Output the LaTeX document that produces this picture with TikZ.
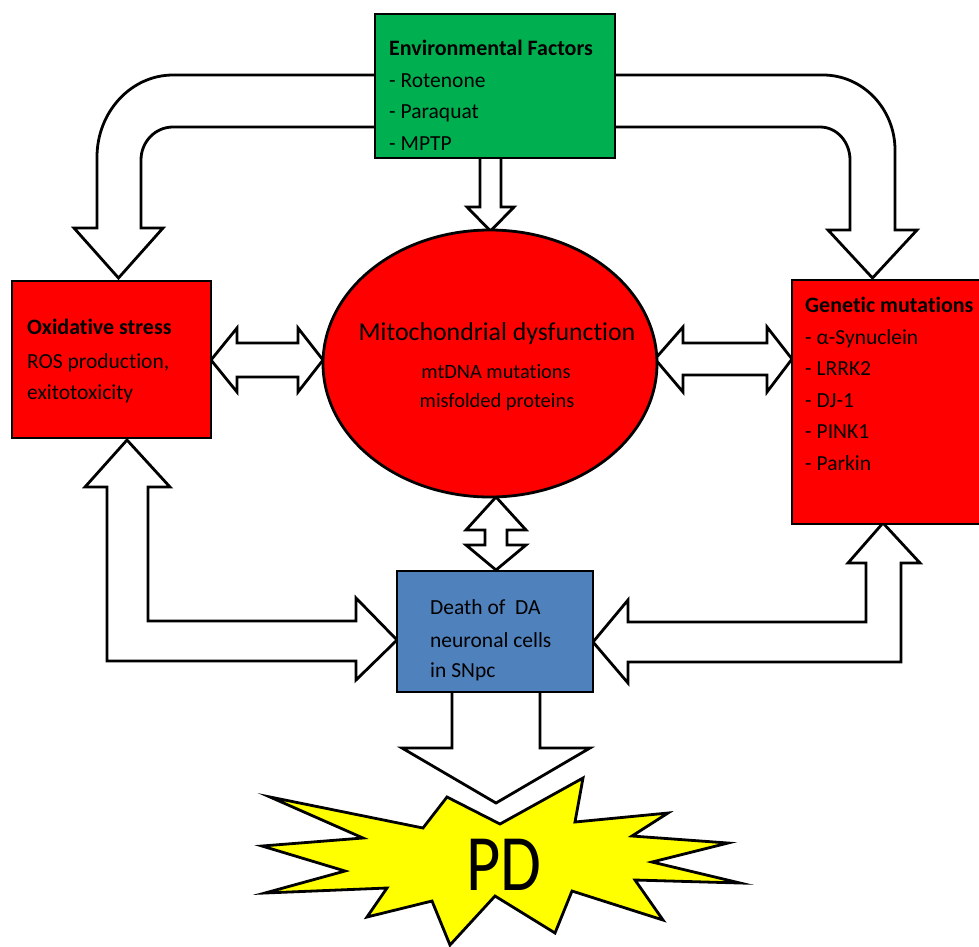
\documentclass[tikz,border=0pt]{standalone}
\usepackage{fontspec}
\usetikzlibrary{shapes.geometric}
\setmainfont{Carlito}[Ligatures={NoCommon}]
\definecolor{envgreen}{HTML}{00B050}
\definecolor{boxred}{HTML}{FF0000}
\definecolor{boxblue}{HTML}{4F81BD}
\definecolor{burst}{HTML}{FFFF00}
\tikzset{
  blockarrow/.style={draw=black, fill=white, line width=2.8pt, line join=miter},
  boxstyle/.style={draw=black, line width=2.8pt, rectangle, inner sep=0pt, line join=miter},
  txt/.style={anchor=base west, inner sep=0pt, font=\fontsize{21.5}{24}\selectfont},
  btxt/.style={txt, font=\fontsize{22}{24}\selectfont\bfseries},
}
\begin{document}
\begin{tikzpicture}[x=1pt,y=-1pt]
\useasboundingbox (0,0) rectangle (979,946);
\clip (0,0) rectangle (979,946);
\fill[white] (0,0) rectangle (979,946);

% curved arrows from environmental factors
\draw[blockarrow] (380,75) -- (173,75) .. controls (131,75) and (97,112) .. (97,157)
  -- (97,228) -- (74,228) -- (118.5,278) -- (163,228) -- (141,228) -- (141,160)
  .. controls (141,142) and (155,127) .. (173,127) -- (380,127);
\draw[blockarrow] (610,75) -- (823,75) .. controls (863,75) and (895,109) .. (895,150)
  -- (895,230) -- (917,230) -- (872.5,278) -- (828,230) -- (850,230) -- (850,160)
  .. controls (850,142) and (837,127) .. (820,127) -- (610,127);
% middle down arrow
\draw[blockarrow] (480,150) -- (480,207) -- (467,207) -- (490.5,231) -- (514,207) -- (501,207) -- (501,150);

% double arrows
\draw[blockarrow] (211,360) -- (237,328) -- (237,343) -- (298,343) -- (298,328) -- (323,360)
  -- (298,392) -- (298,377) -- (237,377) -- (237,392) -- cycle;
\draw[blockarrow] (655,359) -- (683,327) -- (683,343) -- (767,343) -- (767,327) -- (792,359)
  -- (767,392) -- (767,375) -- (683,375) -- (683,392) -- cycle;
\draw[blockarrow] (496,497) -- (526,530) -- (507,530) -- (507,545) -- (526,545) -- (496,570)
  -- (466,545) -- (485,545) -- (485,530) -- (466,530) -- cycle;

% L-shaped arrows to death box
\draw[blockarrow] (127,440) -- (170,487) -- (148,487) -- (148,621) -- (356,621) -- (356,598)
  -- (397,640) -- (356,680) -- (356,661) -- (107,661) -- (107,487) -- (85,487) -- cycle;
\draw[blockarrow] (883,523) -- (920,563) -- (901,563) -- (901,662) -- (628,662) -- (628,683)
  -- (593,642) -- (628,600) -- (628,622) -- (866,622) -- (866,563) -- (848,563) -- cycle;

% down arrow to PD
\draw[blockarrow] (452,690) -- (452,748) -- (402,748) -- (496,803) -- (590,748) -- (540,748) -- (540,690);

% starburst
\draw[draw=black, fill=burst, line width=2.8pt, line join=miter]
  (270,797) -- (423,828) -- (447,797) -- (500,824) -- (583,778) -- (575,822)
  -- (668,813) -- (632,836) -- (728,843) -- (652,862) -- (740,883) -- (635,880)
  -- (663,920) -- (572,891) -- (555,933) -- (495,896) -- (450,945) -- (432,901)
  -- (367,917) -- (387,888) -- (265,893) -- (345,871) -- (262,846) -- (363,838) -- cycle;
\node[anchor=base, inner sep=0pt, font=\fontsize{80}{90}\selectfont] (pd) at (504,890) {\scalebox{0.83}[1]{PD}};

% boxes
\node[boxstyle, fill=envgreen, minimum width=240pt, minimum height=144pt] (env) at (495,86) {};
\node[boxstyle, fill=boxred, minimum width=199pt, minimum height=157pt] (ox) at (111.5,359.5) {};
\node[boxstyle, fill=boxred, minimum width=200pt, minimum height=244pt] (gen) at (892,402) {};
\node[boxstyle, fill=boxblue, minimum width=196pt, minimum height=121pt] (death) at (495,631.5) {};
\node[draw=black, fill=boxred, line width=2.8pt, ellipse, inner sep=0pt,
      minimum width=334pt, minimum height=267pt] (mito) at (490,363.5) {};

% texts
\node[btxt] (envt) at (389,55) {Environmental Factors};
\node[txt] (env1) at (389,87) {- Rotenone};
\node[txt] (env2) at (389,118) {- Paraquat};
\node[txt] (env3) at (389,150) {- MPTP};

\node[btxt] (oxt) at (27,334) {Oxidative stress};
\node[txt] (ox1) at (27,368) {ROS production,};
\node[txt] (ox2) at (27,399) {exitotoxicity};

\node[btxt] (gent) at (805,312) {Genetic mutations};
\node[txt] (gen1) at (805,344) {- α-Synuclein};
\node[txt] (gen2) at (805,375) {- LRRK2};
\node[txt] (gen3) at (805,407) {- DJ-1};
\node[txt] (gen4) at (805,438) {- PINK1};
\node[txt] (gen5) at (805,470) {- Parkin};

\node[anchor=base, inner sep=0pt, font=\fontsize{25.8}{28}\selectfont] (mitot) at (497,340) {Mitochondrial dysfunction};
\node[anchor=base, inner sep=0pt, font=\fontsize{20.4}{23}\selectfont] (mito1) at (496,378) {mtDNA mutations};
\node[anchor=base, inner sep=0pt, font=\fontsize{20.4}{23}\selectfont] (mito2) at (497,407) {misfolded proteins};

\node[txt] (d1) at (430,614) {Death of~ DA};
\node[txt] (d2) at (430,647) {neuronal cells};
\node[txt] (d3) at (430,677) {in SNpc};
\end{tikzpicture}
\end{document}
